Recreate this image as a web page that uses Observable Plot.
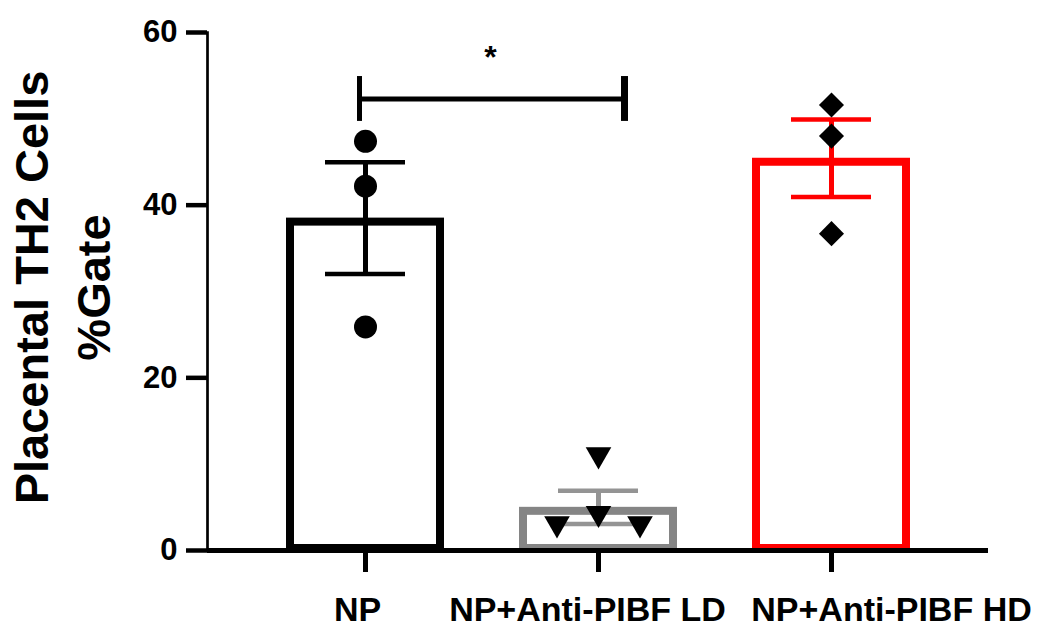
<!DOCTYPE html>
<html><head><meta charset="utf-8">
<script src="https://cdn.jsdelivr.net/npm/d3@7"></script>
<script src="https://cdn.jsdelivr.net/npm/@observablehq/plot@0.6"></script>
<style>body{margin:0;background:#fff;} svg{display:block;}</style>
</head><body><div id="chart"></div>
<script>
// ---- data ----
const categories = ["NP", "NP+Anti-PIBF LD", "NP+Anti-PIBF HD"];
const npValues = [47.4, 42.2, 25.9];
const ldValues = [10.7, 2.7, 3.9, 2.7];
const ldColumn = [0, -1, 0, 1];          // side-by-side placement of LD points
const hdValues = [51.6, 48.0, 36.7];
const yTicks = [0, 20, 40, 60];
const yTitle = ["Placental TH2 Cells", "%Gate"];
const sigPair = ["NP", "NP+Anti-PIBF LD"];
const sigLevel = 52.3;
const sigLabel = "*";

// ---- styling ----
const barColors = ["#000000", "#858585", "#ff0000"];
const errColors = ["#000000", "#949494", "#ff0000"];
const labelShift = [-8, -11, 60];
const font = "Liberation Sans, Arial, sans-serif";

const groups = [npValues, ldValues, hdValues];
const summary = categories.map((c, i) => {
  const v = groups[i];
  const m = d3.mean(v);
  const se = d3.deviation(v) / Math.sqrt(v.length);
  return {cat: c, mean: m, lo: m - se, hi: m + se, color: barColors[i], ecolor: errColors[i]};
});
const npPts = npValues.map(v => ({cat: categories[0], v}));
const ldPts = ldValues.map((v, i) => ({cat: categories[1], v, col: ldColumn[i]}));
const hdPts = hdValues.map(v => ({cat: categories[2], v}));
const sig = [{a: sigPair[0], b: sigPair[1], y: sigLevel, t: sigLabel}];

const chart = Plot.plot({
  width: 1050,
  height: 639,
  marginLeft: 207,
  marginRight: 62,
  marginTop: 32,
  marginBottom: 89,
  style: {fontFamily: font, color: "black", background: "white", overflow: "visible"},
  x: {domain: categories, paddingInner: 0.323, paddingOuter: 0.334},
  y: {domain: [0, 60]},
  color: {type: "identity"},
  marks: [
    Plot.barY(summary, {x: "cat", y: "mean", fill: "white", stroke: "color", strokeWidth: 8,
      insetLeft: 4, insetRight: 4, insetTop: 4, insetBottom: 2}),
    Plot.ruleX(summary, {x: "cat", y1: "lo", y2: "hi", stroke: "ecolor", strokeWidth: 5}),
    Plot.tickY(summary, {x: "cat", y: "hi", stroke: "ecolor", strokeWidth: 4.5, insetLeft: 39, insetRight: 39}),
    Plot.tickY(summary, {x: "cat", y: "lo", stroke: "ecolor", strokeWidth: 4.5, insetLeft: 39, insetRight: 39}),
    Plot.dot(npPts, {x: "cat", y: "v", r: 11.5, fill: "black", symbol: "circle"}),
    ...[-1, 0, 1].map(col => Plot.dot(ldPts.filter(d => d.col === col),
      {x: "cat", y: "v", symbol: "triangle", rotate: 180, r: 9.5, fill: "black", dx: col * 41.5, dy: -3.5})),
    Plot.dot(hdPts, {x: "cat", y: "v", symbol: "square", rotate: 45, r: 10, fill: "black"}),
    // significance bracket
    Plot.ruleY(sig, {x1: "a", x2: "b", y: "y", strokeWidth: 5, insetLeft: 73, insetRight: 54}),
    Plot.ruleX(sig, {x: "a", y1: d => d.y - 2.6, y2: d => d.y + 2.6, strokeWidth: 5, dx: -6}),
    Plot.ruleX(sig, {x: "b", y1: d => d.y - 2.6, y2: d => d.y + 2.6, strokeWidth: 7, dx: 26}),
    Plot.text(sig, {x: "a", y: d => d.y + 4.8, text: "t", dx: 125, fontSize: 32, fontWeight: "bold"}),
    // axes
    Plot.frame({anchor: "left", strokeWidth: 2.7}),
    Plot.ruleY([0], {strokeWidth: 5}),
    Plot.axisY({ticks: yTicks, tickSize: 21, tickPadding: 9, fontSize: 31, fontWeight: "bold",
      strokeWidth: 4.5, label: null}),
    Plot.axisX({tickSize: 22, tickFormat: () => "", strokeWidth: 5, label: null}),
    ...categories.map((c, i) => Plot.text([c], {x: d => d, frameAnchor: "bottom", lineAnchor: "top",
      dy: 46, dx: labelShift[i], fontSize: 34, fontWeight: "bold"})),
    Plot.text([yTitle.join("\n")], {text: d => d, frameAnchor: "left", textAnchor: "middle",
      lineAnchor: "middle", rotate: -90, fontSize: 47,
      fontWeight: "bold", lineHeight: 62 / 47, dx: -148, dy: -4})
  ]
});
document.getElementById("chart").appendChild(chart);
</script>
</body></html>
